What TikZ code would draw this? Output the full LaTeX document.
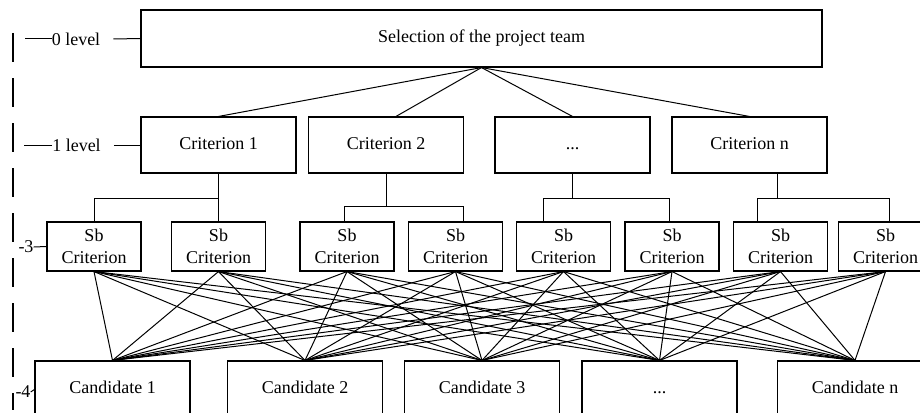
\documentclass[tikz,border=0pt]{standalone}
\usepackage{fontspec}
\setmainfont{Liberation Serif}

\tikzset{
  box/.style={draw, line width=1.1pt, minimum width=155pt, minimum height=56pt,
    inner sep=0pt, text height=12pt, text depth=4pt, font=\fontsize{18}{22}\selectfont},
  sbbox/.style={box, minimum width=94pt, minimum height=49pt, align=center,
    text height=, text depth=},
  link/.style={line width=1pt},
  levtext/.style={inner sep=0pt, font=\fontsize{18}{22}\selectfont},
}

\begin{document}
\begin{tikzpicture}[x=1pt, y=-1pt]
    \useasboundingbox (0,0) rectangle (920,412);

    % goal
    \node[box, minimum width=681pt, minimum height=57pt] (goal) at (481.5,38.5) {Selection of the project team};

    % criteria
    \node[box] (crit1) at (218.5,145) {Criterion 1};
    \node[box] (crit2) at (386,145) {Criterion 2};
    \node[box] (crit3) at (572.5,145) {...};
    \node[box] (crit4) at (749.5,145) {Criterion n};

    % sub criteria
    \foreach \x [count=\i] in {94,218.5,347,455.5,563.5,672,780.5,885.5}
        \node[sbbox] (sub\i) at (\x,246.5) {Sb\\Criterion};

    % candidates
    \node[box, minimum height=57pt] (cand1) at (112.5,389.5) {Candidate 1};
    \node[box, minimum height=57pt] (cand2) at (305,389.5) {Candidate 2};
    \node[box, minimum height=57pt] (cand3) at (482,389.5) {Candidate 3};
    \node[box, minimum height=57pt] (cand4) at (659.5,389.5) {...};
    \node[box, minimum height=57pt] (cand5) at (855,389.5) {Candidate n};

    % goal -> criteria
    \draw[link] (goal.south) -- (crit1.north);
    \draw[link] (goal.south) -- ([xshift=10pt]crit2.north);
    \draw[link] (goal.south) -- (crit3.north);
    \draw[link] (goal.south) -- (crit4.north);

    % criteria -> sub criteria
    \draw[link] (crit1.south) -- ++(0,25) coordinate (fork1);
    \draw[link] (sub1.north) |- (fork1) -| (sub2.north);
    \draw[link] (crit2.south) -- ++(0,33) coordinate (fork2);
    \draw[link] ([xshift=-3pt]sub3.north) |- (fork2) -| ([xshift=8pt]sub4.north);
    \draw[link] (crit3.south) -- ++(0,25) coordinate (fork3);
    \draw[link] ([xshift=-20pt]sub5.north) |- (fork3) -| ([xshift=-3pt]sub6.north);
    \draw[link] ([xshift=28pt]crit4.south) -- ++(0,25) coordinate (fork4);
    \draw[link] ([xshift=-23pt]sub7.north) |- (fork4) -| ([xshift=4pt]sub8.north);

    % sub criteria -> candidates
    \foreach \s in {1,...,8}
        \foreach \c in {1,...,5}
            \draw[link] (sub\s.south) -- (cand\c.north);

    % levels
    \draw[line width=1.2pt, dash pattern=on 29pt off 16pt] (13,33) -- (13,410);

    \node[levtext] (lev0) at (76,39) {0 level};
    \draw[link] (lev0.west) -- ++(-27,0);
    \draw[link] ([xshift=13pt]lev0.east) -- (goal.west);

    \node[levtext] (lev1) at (76.5,145) {1 level};
    \draw[link] (lev1.west) -- ++(-28,0);
    \draw[link] ([xshift=13pt]lev1.east) -- (crit1.west);

    \node[levtext] (lev3) at (26,247) {-3};
    \draw[link] (lev3.east) -- (sub1.west);

    \node[levtext] (lev4) at (23,392) {-4};
    \draw[link] (lev4.east) -- (cand1.west);
\end{tikzpicture}
\end{document}
